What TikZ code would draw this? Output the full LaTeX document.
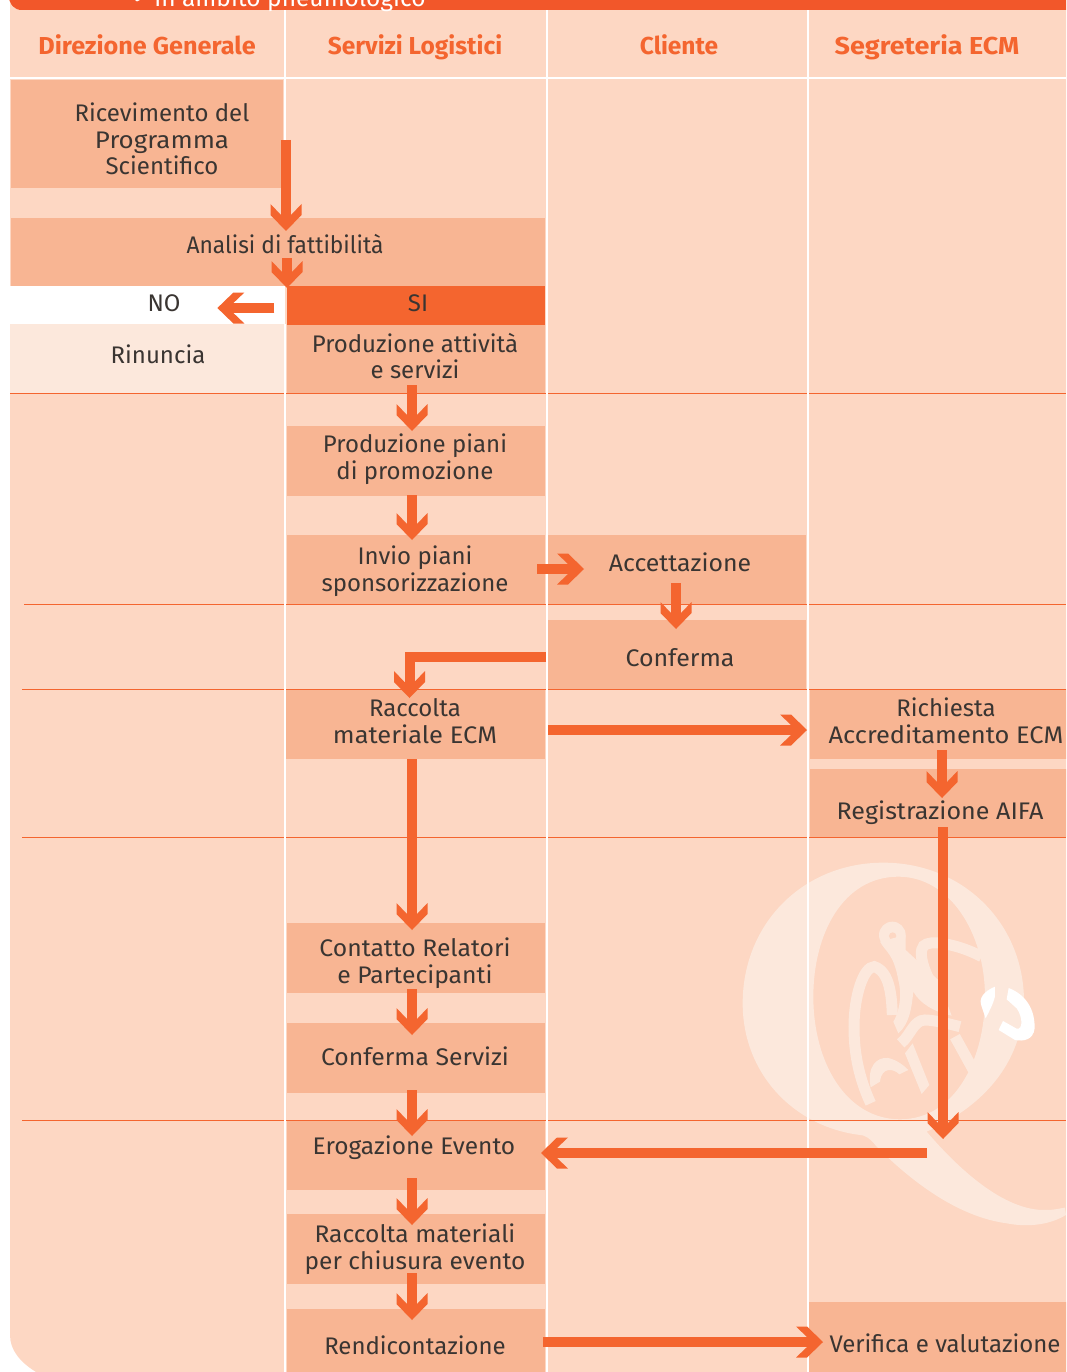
\documentclass[tikz,border=0pt]{standalone}
\usepackage{fontspec}
\setmainfont{Fira Sans}
\usetikzlibrary{arrows.meta}
\definecolor{panel}{HTML}{FDD7C3}
\definecolor{boxc}{HTML}{F8B593}
\definecolor{orng}{HTML}{F4652F}
\definecolor{bann}{HTML}{F2572A}
\definecolor{pale}{HTML}{FCE8DC}
\definecolor{ink}{HTML}{3A3532}
\pgfdeclarearrow{
  name=Chev,
  setup code={\pgfarrowssettipend{0pt}\pgfarrowssetlineend{-12pt}\pgfarrowssetvisualbackend{-27pt}\pgfarrowssetbackend{-27pt}\pgfarrowssavethe\pgfarrowlength},
  drawing code={
    \pgfpathmoveto{\pgfqpoint{0pt}{0pt}}
    \pgfpathlineto{\pgfpoint{-16pt}{15.5pt}}
    \pgfpathlineto{\pgfpoint{-27pt}{15.5pt}}
    \pgfpathlineto{\pgfpoint{-16pt}{5pt}}
    \pgfpathlineto{\pgfpoint{-16pt}{-5pt}}
    \pgfpathlineto{\pgfpoint{-27pt}{-15.5pt}}
    \pgfpathlineto{\pgfpoint{-16pt}{-15.5pt}}
    \pgfpathclose
    \pgfusepathqfill},
  defaults={}
}
\tikzset{
  x=1pt,y=-1pt,
  box/.style={inner sep=0pt,outer sep=0pt,fill=boxc,text=ink,font=\fontsize{24}{26.6}\selectfont,align=center},
  head/.style={text=orng,inner sep=0pt,anchor=base,font=\fontsize{24.5}{26}\selectfont\bfseries},
  lab/.style={text=ink,inner sep=0pt,font=\fontsize{24}{26.6}\selectfont,align=center},
  flow/.style={draw=orng,line width=10pt,-{Chev[]},line join=miter},
  rule/.style={draw=orng,line width=0.9pt},
  sep/.style={draw=white,line width=2pt}
}
\newcommand{\bx}[5]{\node[box,anchor=north west,minimum width=#4-#2,minimum height=#5-#3] (#1) at (#2,#3) {};}
\newcommand{\sx}[2]{\scalebox{#1}[1]{#2}}
\begin{document}
\begin{tikzpicture}
\useasboundingbox (0,0) rectangle (1066,1372);
\clip (0,0) rectangle (1066,1372);
% panel
\fill[panel] (10,0) -- (1066,0) -- (1066,1372) -- (36,1372) .. controls (20,1362) and (10,1350) .. (10,1335) -- cycle;
% watermark
\begin{scope}[shift={(730,840)},x=0.3333pt,y=-0.3333pt]
\fill[pale,even odd rule]
 (460,68) .. controls (700,68) and (880,250) .. (882,480) .. controls (880,650) and (780,790) .. (590,875)
 .. controls (680,980) and (820,1115) .. (950,1110) .. controls (975,1110) and (990,1105) .. (1005,1103) -- (1008,1125)
 .. controls (950,1160) and (880,1160) .. (830,1150) .. controls (680,1130) and (540,1020) .. (440,920)
 .. controls (420,895) and (405,885) .. (390,885) .. controls (190,860) and (38,700) .. (38,490)
 .. controls (38,250) and (220,68) .. (460,68) -- cycle
 (505,110) .. controls (340,110) and (250,280) .. (250,470) .. controls (250,670) and (350,838) .. (510,838)
 .. controls (680,838) and (765,650) .. (765,470) .. controls (765,280) and (660,110) .. (505,110) -- cycle;
\fill[pale] (487,285) circle[radius=40];
\fill[panel] (488,288) circle[radius=11];
\fill[pale] (450,305) .. controls (470,340) and (490,340) .. (505,420) .. controls (520,480) and (500,530) .. (490,545)
  -- (505,580) .. controls (540,550) and (545,500) .. (550,455) .. controls (570,490) and (610,515) .. (665,527)
  -- (625,420) -- (527,330) -- (527,285) -- cycle;
\draw[pale,line width=11pt] (422,790) .. controls (380,700) and (372,620) .. (372,560) .. controls (372,470) and (400,380) .. (433,380) .. controls (480,395) and (485,470) .. (487,525);
\draw[pale,line width=11pt] (755,350) .. controls (700,320) and (620,300) .. (590,312) .. controls (560,320) and (570,390) .. (640,490);
\draw[pale,line width=11pt] (512,610) .. controls (540,590) and (550,540) .. (585,540) .. controls (610,540) and (650,550) .. (690,560);
\draw[pale,line width=11pt] (675,590) -- (730,690);
\fill[pale] (525,640) -- (548,610) -- (598,735) -- (575,762) -- cycle;
\fill[pale] (422,742) .. controls (410,680) and (440,650) .. (475,654) .. controls (500,660) and (520,675) .. (535,690) -- (508,703) .. controls (490,685) and (455,680) .. (450,725) -- cycle;
\fill[white] (795,440) .. controls (760,455) and (745,475) .. (755,500) -- (767,535) .. controls (780,510) and (790,490) .. (795,470) -- cycle;
\fill[white] (836,444) .. controls (890,465) and (915,510) .. (914,565) .. controls (910,600) and (880,605) .. (855,600) -- (806,570) -- (819,543) -- (860,566) .. controls (880,570) and (878,530) .. (860,505) -- (830,478) -- cycle;
\end{scope}
% boxes
\bx{ric}{11}{80}{283}{188}
\bx{ana}{11}{218}{545}{286}
\node[anchor=north west,fill=white,minimum width=277pt,minimum height=38pt,inner sep=0pt] (nob) at (8,286) {};
\node[anchor=north west,fill=orng,minimum width=258pt,minimum height=39pt,inner sep=0pt] (si) at (287,286) {};
\node[anchor=north west,fill=pale,minimum width=275pt,minimum height=69pt,inner sep=0pt] (rin) at (10,324) {};
\bx{pat}{287}{325}{545}{393}
\bx{ppi}{287}{426}{545}{496}
\bx{inv}{287}{535}{545}{604}
\bx{acc}{548}{535}{806}{604}
\bx{con}{548}{620}{806}{689}
\bx{rac}{286}{689}{545}{759}
\bx{ria}{810}{689}{1068}{759}
\bx{reg}{810}{769}{1068}{837}
\bx{cor}{287}{923}{545}{993}
\bx{cos}{287}{1023}{545}{1093}
\bx{ero}{287}{1120}{545}{1190}
\bx{rma}{287}{1214}{545}{1284}
\bx{ren}{287}{1309}{545}{1374}
\bx{ver}{809}{1302}{1068}{1374}
% rules
\draw[rule] (10,393) -- (1066,393);
\draw[rule] (24,604) -- (1066,604);
\draw[rule] (22,689) -- (1066,689);
\draw[rule] (22,837) -- (1066,837);
\draw[rule] (22,1120) -- (1066,1120);
% separators
\draw[sep] (285,10) -- (285,218) (285,324) -- (285,1372);
\draw[sep] (547,10) -- (547,1372);
\draw[sep] (808,10) -- (808,1372);
\draw[sep] (10,78) -- (1066,78);
% banner
\fill[bann] (8,-5) -- (1066,-5) -- (1066,10) -- (22,10) .. controls (14,10) and (10,5) .. (8,-5) -- cycle;
\fill[white] (135,0) -- (140,0) -- (137,1.5) -- cycle;
\node[text=white,inner sep=0pt,anchor=base,font=\fontsize{24.5}{26}\selectfont] (ban) at (290,7) {in ambito pneumologico};
% headers
\node[head] (h1) at (147,55) {\sx{1.03}{Direzione Generale}};
\node[head] (h2) at (415,55) {Servizi Logistici};
\node[head] (h3) at (679,55) {Cliente};
\node[head] (h4) at (927,55) {\sx{1.1}{Segreteria ECM}};
% labels
\node[lab] (t1) at (162,139) {Ricevimento del\\\sx{1.08}{Programma}\\Scientifico};
\node[lab] (t2) at (285,244) {\sx{0.95}{Analisi di fattibilità}};
\node[lab] (t3) at (164,303) {NO};
\node[lab] (t4) at (418,303) {SI};
\node[lab] (t5) at (158,354) {Rinuncia};
\node[lab] (t6) at (415,356) {Produzione attività\\e servizi};
\node[lab] (t7) at (415,459) {Produzione piani\\di promozione};
\node[lab] (t8) at (415,571) {Invio piani\\sponsorizzazione};
\node[lab] (t9) at (680,562) {\sx{1.035}{Accettazione}};
\node[lab] (t10) at (680,658) {\sx{1.04}{Conferma}};
\node[lab] (t11) at (415,721) {Raccolta\\\sx{1.06}{materiale ECM}};
\node[lab] (t12) at (946,721) {Richiesta\\\sx{1.06}{Accreditamento ECM}};
\node[lab] (t13) at (940,813) {\sx{1.045}{Registrazione AIFA}};
\node[lab] (t14) at (415,963) {\sx{1.03}{Contatto Relatori}\\\sx{1.03}{e Partecipanti}};
\node[lab] (t15) at (415,1056) {\sx{1.03}{Conferma Servizi}};
\node[lab] (t16) at (414,1148) {\sx{1.02}{Erogazione Evento}};
\node[lab] (t17) at (415,1249) {\sx{1.025}{Raccolta materiali}\\\sx{1.02}{per chiusura evento}};
\node[lab] (t18) at (415,1345) {Rendicontazione};
\node[lab] (t19) at (945,1343) {Verifica e valutazione};
% connectors
\draw[flow] ([shift={(3,-48)}]ric.south east) -- ([shift={(3,13)}]ric.south east |- ana.north) ;
\draw[flow] ([shift={(9,40)}]ana.north) -- ([shift={(9,2)}]ana.south);
\draw[flow] ([shift={(-11,22)}]nob.north east) -- ([shift={(-68,22)}]nob.north east);
\draw[flow] ([shift={(-4,-8)}]pat.south) -- ([shift={(-4,5)}]ppi.north);
\draw[flow] ([shift={(-4,-1)}]ppi.south) -- ([shift={(-4,5)}]inv.north);
\draw[flow] ([shift={(-8,34)}]inv.north east) -- ([shift={(-222,34)}]acc.north east);
\draw[flow] ([shift={(-1,-21)}]acc.south) -- ([shift={(-1,9)}]con.north);
\draw[flow] ([shift={(-2,-32)}]con.south west) -| ([shift={(-6,9)}]rac.north);
\draw[flow] ([shift={(3,41)}]rac.north east) -- ([shift={(-3,41)}]ria.north west);
\draw[flow] ([shift={(3,-9)}]ria.south) -- ([shift={(3,39)}]ria.south);
\draw[flow] ([shift={(4,-10)}]reg.south) -- ([shift={(4,302)}]reg.south);
\draw[flow] ([xshift=-3.5]rac.south) -- ([shift={(-4,7)}]cor.north);
\draw[flow] ([shift={(-4,-4)}]cor.south) -- ([shift={(-4,12)}]cos.north);
\draw[flow] ([shift={(-4,-3)}]cos.south) -- ([shift={(-4,16)}]ero.north);
\draw[flow] ([shift={(382,33)}]ero.north east) -- ([shift={(-4,33)}]ero.north east);
\draw[flow] ([shift={(-4,-12)}]ero.south) -- ([shift={(-4,11)}]rma.north);
\draw[flow] ([shift={(-4,-11)}]rma.south) -- ([shift={(-4,11)}]ren.north);
\draw[flow] ([shift={(-2,33)}]ren.north east) -- ([shift={(14,33)}]ren.north east -| ver.north west);
\end{tikzpicture}
\end{document}
